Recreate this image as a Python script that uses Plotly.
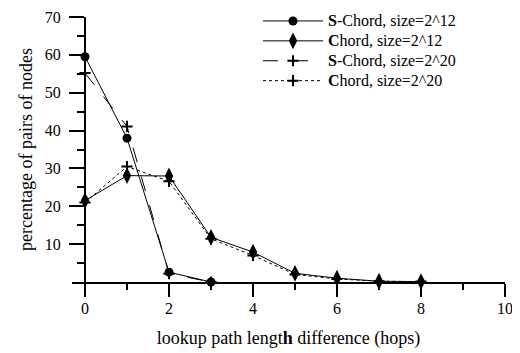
import plotly.graph_objects as go

x_s12 = [0, 1, 2, 3]
y_s12 = [59.5, 38.0, 2.6, 0.0]
x_c12 = [0, 1, 2, 3, 4, 5, 6, 7, 8]
y_c12 = [21.5, 28.1, 28.0, 11.8, 7.9, 2.3, 1.0, 0.2, 0.1]
x_s20 = [0, 1, 2, 3]
y_s20 = [55.2, 41.1, 2.2, 0.0]
x_c20 = [0, 1, 2, 3, 4, 5, 6, 7, 8]
y_c20 = [21.0, 30.5, 26.6, 11.4, 7.0, 2.0, 0.8, 0.2, 0.1]

names = ["<b>S</b>-Chord, size=2^12", "<b>C</b>hord, size=2^12",
         "<b>S</b>-Chord, size=2^20", "<b>C</b>hord, size=2^20"]


def big(t):
    return '<span style="font-size:16px">' + t + '</span>'


FONT = "Liberation Serif"
fig = go.Figure()
fig.add_trace(go.Scatter(x=x_s12, y=y_s12, name=big(names[0]), mode="lines+markers",
                         line=dict(color="black", width=1),
                         marker=dict(symbol="circle", size=9, color="black"),
                         cliponaxis=False))
fig.add_trace(go.Scatter(x=x_c12, y=y_c12, name=big(names[1]), mode="lines+markers",
                         line=dict(color="black", width=1),
                         marker=dict(symbol="diamond-tall", size=12, color="black"),
                         cliponaxis=False))
fig.add_trace(go.Scatter(x=x_s20, y=y_s20, name=big(names[2]), mode="lines+markers",
                         line=dict(color="black", width=1, dash="longdash"),
                         marker=dict(symbol="cross-thin", size=8, color="black",
                                     line=dict(color="black", width=2)),
                         cliponaxis=False))
fig.add_trace(go.Scatter(x=x_c20, y=y_c20, name=big(names[3]), mode="lines+markers",
                         line=dict(color="black", width=1, dash="dot"),
                         marker=dict(symbol="cross-thin", size=8, color="black",
                                     line=dict(color="black", width=2)),
                         cliponaxis=False))

# page body has an 8px margin; compensate so the plot lands where intended
OFF = 8
PT = 17  # page y of plot top
L, R, T, B = 72 - OFF, 15 + OFF, PT - OFF, 71 + OFF
pw = 520 - L - R
ph = 353 - T - B
fig.update_layout(
    width=520, height=353,
    margin=dict(l=L, r=R, t=T, b=B, pad=0, autoexpand=False),
    paper_bgcolor="white", plot_bgcolor="white",
    font=dict(family=FONT, size=16, color="black"),
    showlegend=True,
    legend=dict(x=(258 - 72) / pw, y=1 + (PT - 6) / ph, xanchor="left", yanchor="top",
                bgcolor="rgba(0,0,0,0)", font=dict(family=FONT, size=13),
                itemwidth=60, tracegroupgap=0),
    xaxis=dict(range=[-13 / 42, 10], showgrid=False, zeroline=False,
               automargin=False, ticklabeloverflow="allow",
               showline=True, linecolor="black", linewidth=2,
               tickvals=[0, 2, 4, 6, 8, 10], ticks="outside", ticklen=13,
               tickwidth=2, tickcolor="black", ticklabelstandoff=-2,
               tickfont=dict(family=FONT, size=16),
               minor=dict(tickvals=[1, 3, 5, 7, 9], ticks="outside", ticklen=6,
                          tickwidth=2, tickcolor="black"),
               title=dict(text="lookup path lengt<b>h</b> difference (hops)",
                          font=dict(family=FONT, size=18), standoff=15)),
    yaxis=dict(range=[0, 70], showgrid=False, zeroline=False,
               automargin=False, anchor="free", position=13 / pw,
               ticklabeloverflow="allow",
               showline=True, linecolor="black", linewidth=2,
               tickvals=[10, 20, 30, 40, 50, 60, 70], ticks="outside", ticklen=15,
               tickwidth=2, tickcolor="black", ticklabelstandoff=5,
               tickfont=dict(family=FONT, size=16),
               minor=dict(tickvals=[5, 15, 25, 35, 45, 55, 65], ticks="outside",
                          ticklen=7, tickwidth=2, tickcolor="black"),
               title=dict(text="percentage of pairs of nodes",
                          font=dict(family=FONT, size=18), standoff=6)),
)
fig.write_html("out.html")
